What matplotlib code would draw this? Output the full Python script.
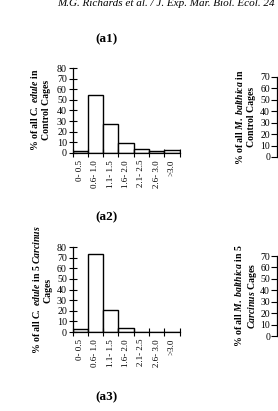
import numpy as np
import matplotlib
matplotlib.use('Agg')
import matplotlib.pyplot as plt

plt.rcParams['font.family'] = ['Liberation Serif', 'DejaVu Serif']
plt.rcParams['mathtext.fontset'] = 'custom'
plt.rcParams['mathtext.it'] = 'Liberation Serif:italic:bold'
plt.rcParams['mathtext.rm'] = 'Liberation Serif:bold'

# Данные (размерные классы, % особей)
size_classes = ['0- 0.5', '0.6- 1.0', '1.1- 1.5', '1.6- 2.0', '2.1- 2.5', '2.6- 3.0', '>3.0']
edule_control = [1.5, 55, 27.5, 9.5, 4, 1.5, 2.5]
edule_carcinus = [3, 73, 21, 4, 0, 0, 0]

header = 'M.G. Richards et al. / J. Exp. Mar. Biol. Ecol. 24'
panel_titles = ['(a1)', '(a2)', '(a3)']
edule_labels = [r'% of all $C.$ $edule$ in' + '\nControl Cages',
                r'% of all $C.$ $edule$ in 5 $Carcinus$' + '\nCages']
balthica_labels = [r'% of all $M.$ $balthica$ in' + '\nControl Cages',
                   r'% of all $M.$ $balthica$ in 5' + '\n$Carcinus$ Cages']

W, H = 278, 411
fig = plt.figure(figsize=(W / 100, H / 100), dpi=100)


def fx(px):
    return px / W


def fy(py):
    return 1 - py / H


def left_panel(top, bottom, values):
    ax = fig.add_axes([fx(72.5), fy(bottom), fx(179.5) - fx(72.5), fy(top) - fy(bottom)])
    x = np.arange(len(size_classes))
    ax.bar(x, values, width=1.0, facecolor='white', edgecolor='black', linewidth=1.0)
    ax.set_xlim(-0.5, len(size_classes) - 0.5)
    ax.set_ylim(0, 80)
    ax.set_yticks(np.arange(0, 81, 10))
    ax.set_xticks(np.arange(-0.5, len(size_classes)), labels=[])
    ax.set_xticks(x, labels=size_classes, minor=True, rotation=90, fontsize=6.5)
    ax.tick_params(axis='x', which='major', direction='inout', length=6, width=0.8)
    ax.tick_params(axis='x', which='minor', length=0, pad=5)
    ax.tick_params(axis='y', direction='inout', length=6, width=0.8, labelsize=7.2, pad=1)
    for s in ['top', 'right']:
        ax.spines[s].set_visible(False)
    for s in ['left', 'bottom']:
        ax.spines[s].set_linewidth(0.9)
    return ax


def right_panel(top, bottom):
    ax = fig.add_axes([fx(277), fy(bottom), 0.4, fy(top) - fy(bottom)])
    ax.set_ylim(0, 70)
    ax.set_yticks(np.arange(0, 71, 10))
    ax.set_xticks([])
    ax.tick_params(axis='y', direction='out', length=4, width=0.8, labelsize=7, pad=1)
    for s in ['top', 'right', 'bottom']:
        ax.spines[s].set_visible(False)
    ax.spines['left'].set_linewidth(0.9)
    return ax


left_panel(68, 153, edule_control)
left_panel(247, 332, edule_carcinus)
right_panel(77, 157)
right_panel(256, 336)

fig.text(fx(57), fy(5.5), header, fontsize=8, style='italic', va='baseline', ha='left')

for t, py in zip(panel_titles, [39, 217.5, 397]):
    fig.text(fx(107), fy(py), t, fontsize=9.5, fontweight='bold', ha='center', va='center')

for lab, (px, py) in zip(edule_labels, [(40, 110), (42, 290)]):
    fig.text(fx(px), fy(py), lab, fontsize=7, fontweight='bold', rotation=90,
             ha='center', va='center', multialignment='center', linespacing=1.2)

for lab, (px, py) in zip(balthica_labels, [(245, 117), (246, 296)]):
    fig.text(fx(px), fy(py), lab, fontsize=7, fontweight='bold', rotation=90,
             ha='center', va='center', multialignment='center', linespacing=1.2)

fig.savefig('out.png', dpi=100)
